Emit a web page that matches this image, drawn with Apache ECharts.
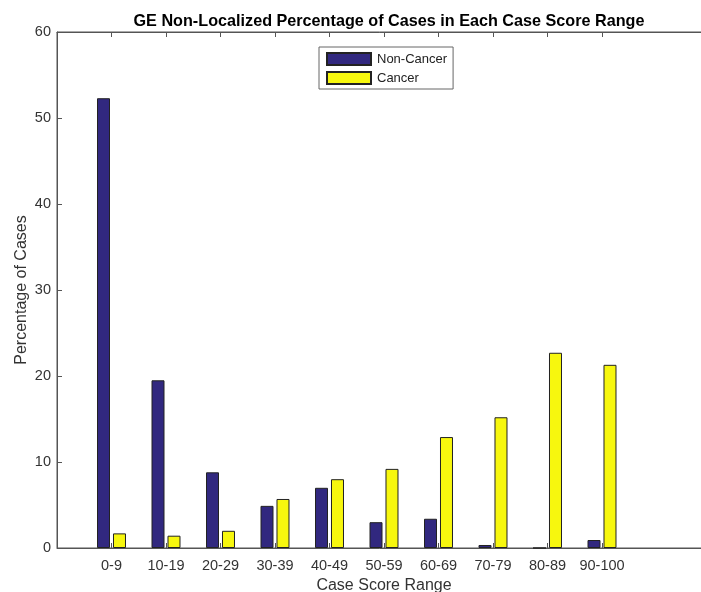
<!DOCTYPE html>
<html><head><meta charset="utf-8">
<script src="https://cdn.jsdelivr.net/npm/echarts@6/dist/echarts.min.js"></script>
<style>html,body{margin:0;padding:0;background:#fff}#c{width:701px;height:592px}</style>
</head><body><div id="c"></div>
<script>
const categories = ['0-9','10-19','20-29','30-39','40-49','50-59','60-69','70-79','80-89','90-100'];
const nonCancer = [52.3, 19.5, 8.8, 4.9, 7.0, 3.0, 3.4, 0.35, 0, 0.93];
const cancer = [1.7, 1.43, 2.0, 5.7, 8.0, 9.2, 12.9, 15.2, 22.7, 21.3];
const yTicks = [0, 10, 20, 30, 40, 50, 60];

// slots 0..12 with categories at 1..10 (MATLAB-style padding)
const slots = [''].concat(categories, ['', '']);
const pad = arr => [null].concat(arr, [null, null]);

const font = 'Liberation Sans, Arial, Helvetica, sans-serif';
const axisColor = '#555';
const chart = echarts.init(document.getElementById('c'));
chart.setOption({
  animation: false,
  title: {
    text: 'GE Non-Localized Percentage of Cases in Each Case Score Range',
    left: 384, top: 9, textAlign: 'center',
    textStyle: {fontFamily: font, fontSize: 16.2, fontWeight: 'bold', color: '#000'}
  },
  legend: {
    orient: 'vertical', left: 319, top: 47,
    itemWidth: 44, itemHeight: 12, itemGap: 5,
    padding: [5, 6, 4, 7],
    borderColor: '#666', borderWidth: 1, backgroundColor: '#fff',
    textStyle: {fontFamily: font, fontSize: 13, color: '#222', padding: [0, 0, 0, 1]},
    data: ['Non-Cancer', 'Cancer'],
    icon: 'rect'
  },
  grid: {left: 57, width: 654, top: 32, height: 516, outerBoundsMode: 'none', containLabel: false,
         show: true, borderColor: axisColor, borderWidth: 1, backgroundColor: 'transparent'},
  xAxis: [{
    type: 'category', data: slots, boundaryGap: false,
    name: 'Case Score Range', nameLocation: 'middle', nameGap: 30, nameMoveOverlap: false,
    nameTextStyle: {fontFamily: font, fontSize: 16, color: '#333'},
    axisLine: {lineStyle: {color: axisColor}},
    axisTick: {inside: true, length: 5, lineStyle: {color: axisColor}, interval: (i) => i >= 1 && i <= 10},
    axisLabel: {fontFamily: font, fontSize: 14.5, color: '#333', margin: 10, interval: 0},
    splitLine: {show: false}
  }, {
    type: 'category', data: slots, boundaryGap: false, position: 'top',
    axisLine: {lineStyle: {color: axisColor}},
    axisTick: {inside: true, length: 5, lineStyle: {color: axisColor}, interval: (i) => i >= 1 && i <= 10},
    axisLabel: {show: false}, splitLine: {show: false}
  }],
  yAxis: {
    type: 'value', min: yTicks[0], max: yTicks[yTicks.length - 1], interval: 10,
    name: 'Percentage of Cases', nameLocation: 'middle', nameGap: 27, nameMoveOverlap: false,
    nameTextStyle: {fontFamily: font, fontSize: 16, color: '#333'},
    axisLine: {show: true, lineStyle: {color: axisColor}},
    axisTick: {show: true, inside: true, length: 5, lineStyle: {color: axisColor}},
    axisLabel: {fontFamily: font, fontSize: 14.5, color: '#333', margin: 6},
    splitLine: {show: false}
  },
  series: [{
    name: 'Non-Cancer', type: 'bar', data: pad(nonCancer),
    barWidth: 13, barGap: '23%',
    itemStyle: {color: '#31287f', borderColor: '#222', borderWidth: 1}
  }, {
    name: 'Cancer', type: 'bar', data: pad(cancer),
    barWidth: 13, barGap: '23%',
    itemStyle: {color: '#f7f70e', borderColor: '#222', borderWidth: 1}
  }]
});
</script></body></html>
